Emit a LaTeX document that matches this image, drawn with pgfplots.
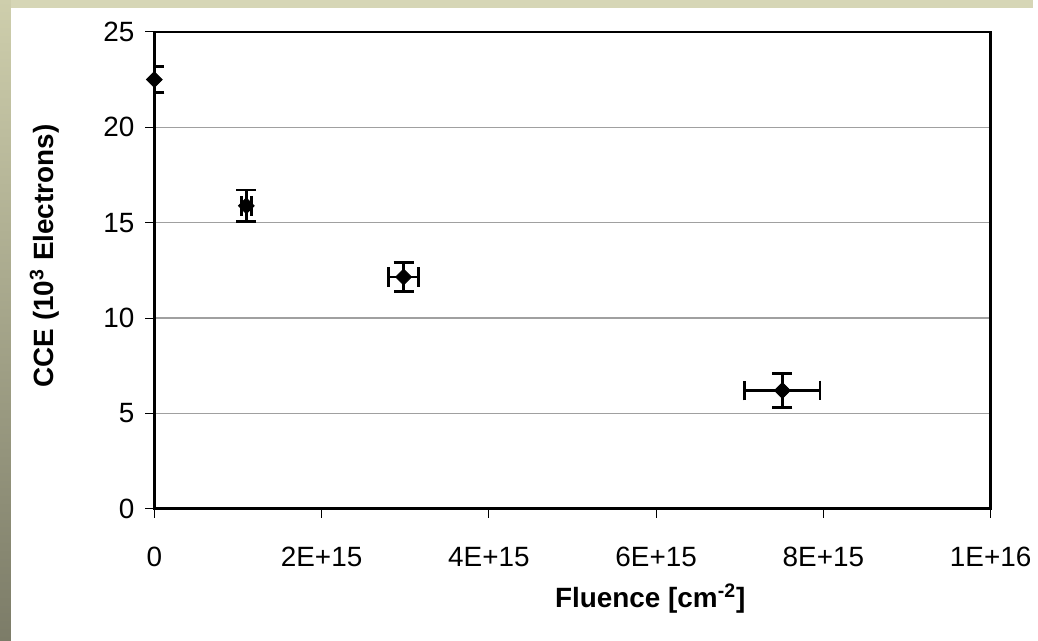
\documentclass[border=0pt]{standalone}
\usepackage{pgfplots}
\pgfplotsset{compat=1.18}
\usepackage{fontspec}
\setmainfont{Liberation Sans}
\definecolor{slidetop}{RGB}{214,214,182}
\definecolor{slidelight}{RGB}{206,206,172}
\definecolor{slidedark}{RGB}{124,124,104}
\definecolor{gridgray}{RGB}{160,160,160}
\begin{document}
\begin{tikzpicture}
% slide background with its frame strips
\fill[slidetop] (0pt,0pt) rectangle (519pt,321.5pt);
\shade[top color=slidelight, bottom color=slidedark] (0pt,0pt) rectangle (5.5pt,321.5pt);
\fill[white] (5.5pt,0pt) rectangle (519pt,317.5pt);
\begin{axis}[
  at={(77.5pt,66pt)}, anchor=south west,
  scale only axis, width=420pt, height=239.5pt,
  xmin=0, xmax=1e16, ymin=0, ymax=25,
  scaled x ticks=false, scaled y ticks=false,
  xtick={0,2e15,4e15,6e15,8e15,1e16},
  xticklabels={0,2E+15,4E+15,6E+15,8E+15,1E+16},
  ytick={0,5,10,15,20,25},
  yticklabels={0,5,10,15,20,25},
  xtick pos=bottom, ytick pos=left, tick align=outside,
  major tick length=4.5pt,
  tick style={black, line width=0.5pt},
  axis line style={black, line width=1.3pt},
  ymajorgrids, major grid style={gridgray, line width=0.7pt},
  tick label style={font=\fontsize{14}{16}\selectfont},
  xticklabel style={anchor=north, text height=10pt, text depth=0pt, yshift=-11pt},
  yticklabel style={xshift=-2pt},
  xlabel={\textbf{Fluence [cm\textsuperscript{-2}]}},
  ylabel={\textbf{CCE (10\textsuperscript{3} Electrons)}},
  label style={font=\fontsize{14}{16}\selectfont},
  xlabel style={at={(axis description cs:0.593,-0.188)}, anchor=center},
  ylabel style={at={(axis description cs:-0.131,0.53)}, anchor=center},
  error bars/error bar style={black, line width=1.4pt},
  error bars/error mark options={black, line width=1.4pt, mark size=5pt},
]
% unirradiated sample: only the vertical error is known
\addplot[
  only marks, black,
  mark=square*, mark size=2.8pt, mark options={rotate=45, fill=black},
  error bars/.cd, y dir=both, y explicit, error mark=|,
] table[x=x, y=y, y error=ey] {
x        y      ey
0        22.5   0.68
};
% irradiated samples: fluence and charge both carry errors
\addplot[
  only marks, black,
  mark=square*, mark size=2.8pt, mark options={rotate=45, fill=black},
  error bars/.cd,
    x dir=both, x explicit,
    y dir=both, y explicit,
    error mark=|,
] table[x=x, y=y, x error=ex, y error=ey] {
x        y      ex       ey
1.10e15  15.88  0.06e15  0.83
2.98e15  12.15  0.18e15  0.76
7.51e15  6.2    0.45e15  0.88
};
\end{axis}
\end{tikzpicture}
\end{document}
